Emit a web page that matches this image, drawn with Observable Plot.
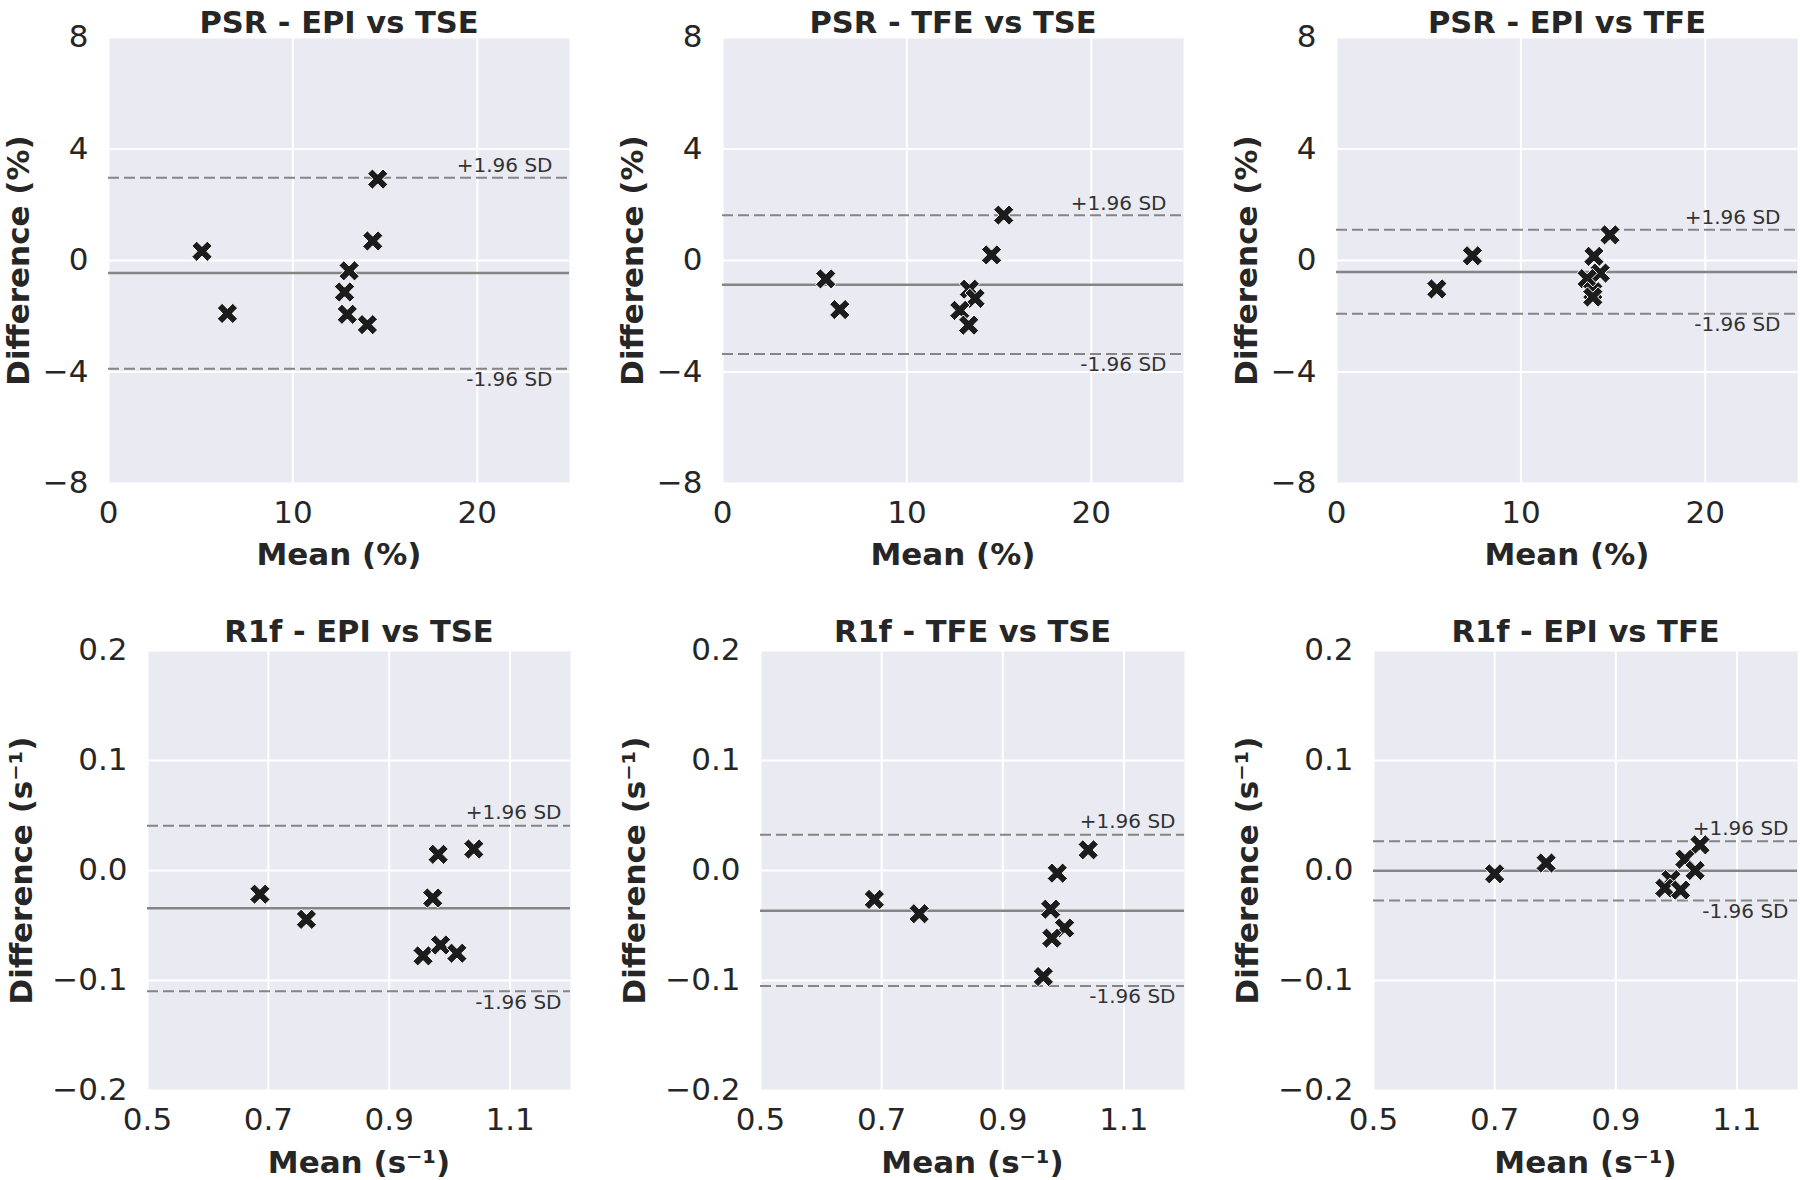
<!DOCTYPE html>
<html>
<head>
<meta charset="utf-8">
<script src="https://cdn.jsdelivr.net/npm/d3@7"></script>
<script src="https://cdn.jsdelivr.net/npm/@observablehq/plot@0.6"></script>
<style>
  html, body { margin: 0; padding: 0; background: #ffffff; }
  #chart { position: relative; width: 1800px; height: 1180px; overflow: hidden; background: #ffffff; }
  .panel { position: absolute; }
</style>
</head>
<body>
<div id="chart"></div>
<script>
// ---------- data ----------
const psrXTicks = [0, 10, 20];
const psrYTicks = [-8, -4, 0, 4, 8];
const r1fXTicks = [0.5, 0.7, 0.9, 1.1];
const r1fYTicks = [-0.2, -0.1, 0.0, 0.1, 0.2];

// PSR - EPI vs TSE
const psrEpiTseMean = [5.07, 6.45, 13.05, 12.8, 12.95, 14.04, 14.33, 14.6];
const psrEpiTseDiff = [0.33, -1.90, -0.37, -1.13, -1.93, -2.30, 0.70, 2.92];
const psrEpiTseLimits = [-0.45, 2.97, -3.88]; // bias, +1.96 SD, -1.96 SD

// PSR - TFE vs TSE
const psrTfeTseMean = [5.6, 6.36, 15.25, 14.59, 13.39, 13.7, 12.87, 13.35];
const psrTfeTseDiff = [-0.66, -1.76, 1.63, 0.2, -1.03, -1.36, -1.79, -2.32];
const psrTfeTseLimits = [-0.87, 1.62, -3.35];

// PSR - EPI vs TFE
const psrEpiTfeMean = [5.44, 7.37, 14.83, 13.96, 14.3, 13.59, 13.9, 13.9];
const psrEpiTfeDiff = [-1.02, 0.17, 0.92, 0.15, -0.45, -0.65, -1.12, -1.31];
const psrEpiTfeLimits = [-0.41, 1.10, -1.91];

// R1f - EPI vs TSE
const r1fEpiTseMean = [0.686, 0.763, 0.981, 1.040, 0.972, 0.956, 0.985, 1.012];
const r1fEpiTseDiff = [-0.0215, -0.0444, 0.0147, 0.0195, -0.025, -0.0776, -0.0677, -0.0752];
const r1fEpiTseLimits = [-0.0344, 0.0407, -0.1097];

// R1f - TFE vs TSE
const r1fTfeTseMean = [0.688, 0.762, 1.041, 0.990, 0.979, 1.002, 0.981, 0.967];
const r1fTfeTseDiff = [-0.0263, -0.0393, 0.0188, -0.0024, -0.0352, -0.0523, -0.0615, -0.0964];
const r1fTfeTseLimits = [-0.0366, 0.0325, -0.105];

// R1f - EPI vs TFE
const r1fEpiTfeMean = [0.700, 0.785, 1.039, 1.014, 1.031, 0.991, 0.981, 1.007];
const r1fEpiTfeDiff = [-0.003, 0.0068, 0.0233, 0.0103, 0.0, -0.0082, -0.016, -0.0178];
const r1fEpiTfeLimits = [-0.0003, 0.0267, -0.0273];

const titles = [
  "PSR - EPI vs TSE", "PSR - TFE vs TSE", "PSR - EPI vs TFE",
  "R1f - EPI vs TSE", "R1f - TFE vs TSE", "R1f - EPI vs TFE"
];

// ---------- drawing ----------
const FONT = "DejaVu Sans, Liberation Sans, sans-serif";
const INK = "#262626";

// filled "X" marker like matplotlib's 'X'
const xSymbol = {
  draw(context, size) {
    const r = Math.sqrt(size / Math.PI);
    const L = r * 1.29, t = r * 0.40;
    const pts = [[t, t], [t, L], [-t, L], [-t, t], [-L, t], [-L, -t], [-t, -t], [-t, -L], [t, -L], [t, -t], [L, -t], [L, t]];
    const c = Math.SQRT1_2;
    pts.forEach(([px, py], i) => {
      const rx = (px - py) * c, ry = (px + py) * c;
      if (i === 0) context.moveTo(rx, ry); else context.lineTo(rx, ry);
    });
    context.closePath();
  }
};

function panel(cfg) {
  const {left, top, width, height, ml, mr, mt, mb, xDomain, yDomain, xTicks, yTicks, fmt,
         means, diffs, limits, title, xLabel, yLabel, yLabelDx, sdDx, sdUp, sdDown, titleDy, xLabelDy} = cfg;
  const [bias, upper, lower] = limits;
  const plot = Plot.plot({
    width, height,
    marginLeft: ml, marginRight: mr, marginTop: mt, marginBottom: mb,
    x: {domain: xDomain},
    y: {domain: yDomain},
    style: {fontFamily: FONT, color: INK, background: "transparent", overflow: "visible"},
    marks: [
      Plot.frame({fill: "#EAEAF2", stroke: "none"}),
      Plot.ruleX(xTicks, {x: d => d, stroke: "#ffffff", strokeWidth: 2}),
      Plot.ruleY(yTicks, {y: d => d, stroke: "#ffffff", strokeWidth: 2}),
      Plot.ruleY([upper, lower], {y: d => d, stroke: "#858585", strokeWidth: 2, strokeDasharray: "11,5"}),
      Plot.ruleY([bias], {y: d => d, stroke: "#858585", strokeWidth: 2.5}),
      Plot.text([upper], {y: d => d, text: () => "+1.96 SD", frameAnchor: "right", textAnchor: "end",
        dx: sdDx, dy: sdUp, fontSize: 20, fill: "#333333", fontFamily: FONT}),
      Plot.text([lower], {y: d => d, text: () => "-1.96 SD", frameAnchor: "right", textAnchor: "end",
        dx: sdDx, dy: sdDown, fontSize: 20, fill: "#333333", fontFamily: FONT}),
      Plot.dot(means, {x: means, y: diffs, symbol: xSymbol, r: 8.5, fill: "#1c1c1c", stroke: "#ffffff", strokeWidth: 1}),
      Plot.axisX(xTicks, {tickSize: 0, tickPadding: 17, tickFormat: fmt.x, fontSize: 31, label: null, fill: INK}),
      Plot.axisY(yTicks, {tickSize: 0, tickPadding: 20, tickFormat: fmt.y, fontSize: 31, label: null, fill: INK}),
      Plot.text([title], {frameAnchor: "top", textAnchor: "middle", dy: titleDy, fontSize: 30.5, fontWeight: "bold", fill: INK}),
      Plot.text([xLabel], {frameAnchor: "bottom", textAnchor: "middle", dy: xLabelDy, fontSize: 31, fontWeight: "bold", fill: INK}),
      Plot.text([yLabel], {frameAnchor: "left", textAnchor: "middle", dx: yLabelDx, rotate: -90, fontSize: 31, fontWeight: "bold", fill: INK})
    ]
  });
  const div = document.createElement("div");
  div.className = "panel";
  div.style.left = left + "px";
  div.style.top = top + "px";
  div.appendChild(plot);
  document.getElementById("chart").appendChild(div);
}

const psrFmt = {x: d3.format("d"), y: d3.format("d")};
const r1fFmt = {x: d3.format(".1f"), y: d3.format(".1f")};

const topRow = [
  {ml: 108, mr: 31, means: psrEpiTseMean, diffs: psrEpiTseDiff, limits: psrEpiTseLimits},
  {ml: 122, mr: 17, means: psrTfeTseMean, diffs: psrTfeTseDiff, limits: psrTfeTseLimits},
  {ml: 136, mr: 3, means: psrEpiTfeMean, diffs: psrEpiTfeDiff, limits: psrEpiTfeLimits}
];
topRow.forEach((p, i) => panel({
  left: i * 600, top: 0, width: 600, height: 590,
  ml: p.ml, mr: p.mr, mt: 37, mb: 107,
  xDomain: [0, 25], yDomain: [-8, 8], xTicks: psrXTicks, yTicks: psrYTicks, fmt: psrFmt,
  means: p.means, diffs: p.diffs, limits: p.limits, title: titles[i],
  xLabel: "Mean (%)", yLabel: "Difference (%)", yLabelDx: -89,
  sdDx: -17, sdUp: -12, sdDown: 11, titleDy: -26, xLabelDy: 81
}));

const bottomRow = [
  {ml: 147, mr: 30, means: r1fEpiTseMean, diffs: r1fEpiTseDiff, limits: r1fEpiTseLimits},
  {ml: 160, mr: 16, means: r1fTfeTseMean, diffs: r1fTfeTseDiff, limits: r1fTfeTseLimits},
  {ml: 173, mr: 3, means: r1fEpiTfeMean, diffs: r1fEpiTfeDiff, limits: r1fEpiTfeLimits}
];
bottomRow.forEach((p, i) => panel({
  left: i * 600, top: 590, width: 600, height: 590,
  ml: p.ml, mr: p.mr, mt: 60, mb: 90,
  xDomain: [0.5, 1.2], yDomain: [-0.2, 0.2], xTicks: r1fXTicks, yTicks: r1fYTicks, fmt: r1fFmt,
  means: p.means, diffs: p.diffs, limits: p.limits, title: titles[3 + i],
  xLabel: "Mean (s\u207B\u00B9)", yLabel: "Difference (s\u207B\u00B9)", yLabelDx: -125,
  sdDx: -9, sdUp: -13, sdDown: 11, titleDy: -30, xLabelDy: 82
}));
</script>
</body>
</html>
